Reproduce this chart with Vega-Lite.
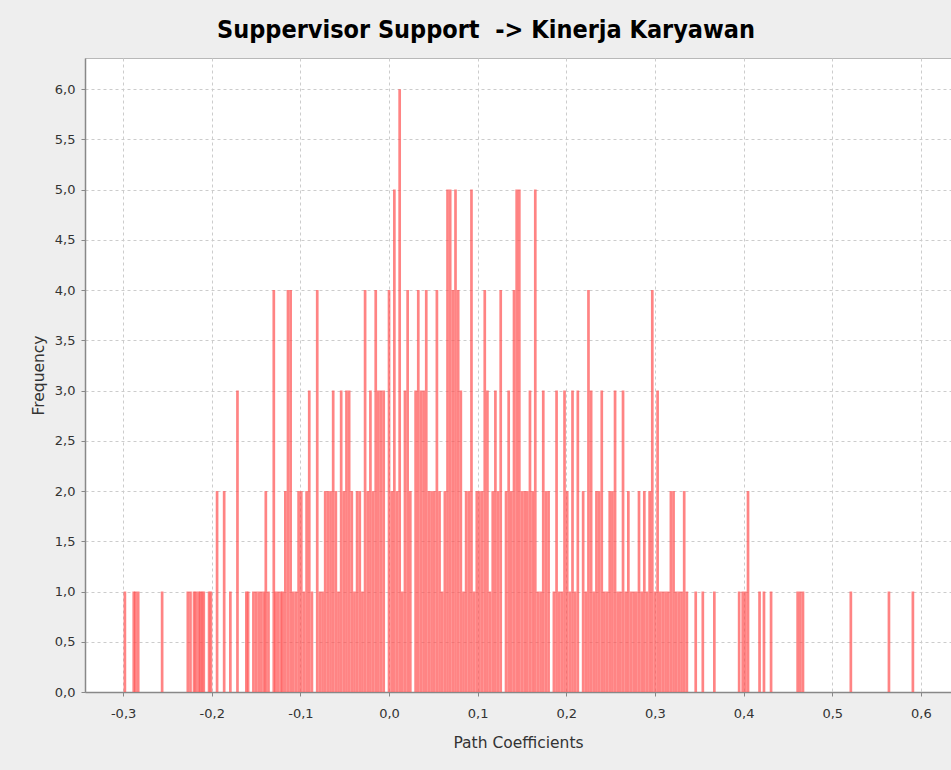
{
  "$schema": "https://vega.github.io/schema/vega-lite/v6.json",
  "width": 866,
  "height": 634,
  "autosize": {"type": "none"},
  "padding": {"left": 85, "top": 58, "right": 0, "bottom": 78},
  "background": "#eeeeee",
  "view": {"fill": "white", "stroke": "#b8b8b8", "strokeWidth": 1},
  "title": {
    "text": "Suppervisor Support \u00a0-> Kinerja Karyawan",
    "font": "DejaVu Sans Condensed",
    "fontSize": 25,
    "fontWeight": "bold",
    "color": "#000000",
    "anchor": "middle",
    "frame": "group",
    "dx": -32,
    "offset": 15
  },
  "data": {
    "values": [
      {"coef": -0.298, "freq": 1}, {"coef": -0.288, "freq": 1}, {"coef": -0.286, "freq": 1}, {"coef": -0.283, "freq": 1},
      {"coef": -0.256, "freq": 1}, {"coef": -0.227, "freq": 1}, {"coef": -0.224, "freq": 1}, {"coef": -0.220, "freq": 1},
      {"coef": -0.218, "freq": 1}, {"coef": -0.215, "freq": 1}, {"coef": -0.213, "freq": 1}, {"coef": -0.211, "freq": 1},
      {"coef": -0.209, "freq": 1}, {"coef": -0.203, "freq": 1}, {"coef": -0.201, "freq": 1}, {"coef": -0.194, "freq": 2},
      {"coef": -0.186, "freq": 2}, {"coef": -0.179, "freq": 1}, {"coef": -0.171, "freq": 3}, {"coef": -0.161, "freq": 1},
      {"coef": -0.159, "freq": 1}, {"coef": -0.153, "freq": 1}, {"coef": -0.150, "freq": 1}, {"coef": -0.147, "freq": 1},
      {"coef": -0.144, "freq": 1}, {"coef": -0.141, "freq": 1}, {"coef": -0.139, "freq": 2}, {"coef": -0.136, "freq": 1},
      {"coef": -0.130, "freq": 4}, {"coef": -0.128, "freq": 1}, {"coef": -0.125, "freq": 1}, {"coef": -0.122, "freq": 1},
      {"coef": -0.120, "freq": 1}, {"coef": -0.117, "freq": 2}, {"coef": -0.114, "freq": 4}, {"coef": -0.111, "freq": 4},
      {"coef": -0.108, "freq": 1}, {"coef": -0.105, "freq": 1}, {"coef": -0.102, "freq": 2}, {"coef": -0.099, "freq": 2},
      {"coef": -0.096, "freq": 1}, {"coef": -0.093, "freq": 2}, {"coef": -0.090, "freq": 3}, {"coef": -0.087, "freq": 1},
      {"coef": -0.081, "freq": 4}, {"coef": -0.078, "freq": 1}, {"coef": -0.075, "freq": 1}, {"coef": -0.072, "freq": 2},
      {"coef": -0.069, "freq": 2}, {"coef": -0.066, "freq": 2}, {"coef": -0.063, "freq": 3}, {"coef": -0.060, "freq": 2},
      {"coef": -0.057, "freq": 1}, {"coef": -0.054, "freq": 3}, {"coef": -0.051, "freq": 2}, {"coef": -0.048, "freq": 3},
      {"coef": -0.045, "freq": 3}, {"coef": -0.042, "freq": 2}, {"coef": -0.039, "freq": 1}, {"coef": -0.036, "freq": 2},
      {"coef": -0.033, "freq": 2}, {"coef": -0.030, "freq": 1}, {"coef": -0.027, "freq": 4}, {"coef": -0.024, "freq": 2},
      {"coef": -0.021, "freq": 3}, {"coef": -0.018, "freq": 2}, {"coef": -0.015, "freq": 4}, {"coef": -0.012, "freq": 3},
      {"coef": -0.009, "freq": 3}, {"coef": -0.006, "freq": 3}, {"coef": 0.000, "freq": 4}, {"coef": 0.003, "freq": 2},
      {"coef": 0.006, "freq": 5}, {"coef": 0.009, "freq": 2}, {"coef": 0.012, "freq": 6}, {"coef": 0.015, "freq": 1},
      {"coef": 0.018, "freq": 3}, {"coef": 0.021, "freq": 4}, {"coef": 0.024, "freq": 2}, {"coef": 0.030, "freq": 3},
      {"coef": 0.033, "freq": 4}, {"coef": 0.036, "freq": 3}, {"coef": 0.039, "freq": 3}, {"coef": 0.042, "freq": 4},
      {"coef": 0.045, "freq": 2}, {"coef": 0.048, "freq": 2}, {"coef": 0.051, "freq": 2}, {"coef": 0.054, "freq": 4},
      {"coef": 0.057, "freq": 2}, {"coef": 0.060, "freq": 1}, {"coef": 0.063, "freq": 2}, {"coef": 0.066, "freq": 5},
      {"coef": 0.069, "freq": 5}, {"coef": 0.072, "freq": 4}, {"coef": 0.075, "freq": 5}, {"coef": 0.078, "freq": 4},
      {"coef": 0.081, "freq": 3}, {"coef": 0.084, "freq": 1}, {"coef": 0.087, "freq": 2}, {"coef": 0.090, "freq": 2},
      {"coef": 0.093, "freq": 5}, {"coef": 0.096, "freq": 1}, {"coef": 0.099, "freq": 2}, {"coef": 0.102, "freq": 2},
      {"coef": 0.105, "freq": 2}, {"coef": 0.108, "freq": 4}, {"coef": 0.111, "freq": 3}, {"coef": 0.114, "freq": 1},
      {"coef": 0.117, "freq": 2}, {"coef": 0.120, "freq": 3}, {"coef": 0.123, "freq": 2}, {"coef": 0.126, "freq": 4},
      {"coef": 0.132, "freq": 2}, {"coef": 0.135, "freq": 3}, {"coef": 0.138, "freq": 2}, {"coef": 0.141, "freq": 4},
      {"coef": 0.144, "freq": 5}, {"coef": 0.147, "freq": 5}, {"coef": 0.150, "freq": 2}, {"coef": 0.153, "freq": 2},
      {"coef": 0.156, "freq": 2}, {"coef": 0.159, "freq": 3}, {"coef": 0.162, "freq": 2}, {"coef": 0.165, "freq": 5},
      {"coef": 0.168, "freq": 1}, {"coef": 0.171, "freq": 1}, {"coef": 0.174, "freq": 3}, {"coef": 0.177, "freq": 2},
      {"coef": 0.180, "freq": 2}, {"coef": 0.186, "freq": 1}, {"coef": 0.189, "freq": 3}, {"coef": 0.192, "freq": 1},
      {"coef": 0.195, "freq": 1}, {"coef": 0.198, "freq": 3}, {"coef": 0.201, "freq": 2}, {"coef": 0.204, "freq": 1},
      {"coef": 0.207, "freq": 3}, {"coef": 0.210, "freq": 1}, {"coef": 0.213, "freq": 3}, {"coef": 0.219, "freq": 2},
      {"coef": 0.222, "freq": 1}, {"coef": 0.225, "freq": 4}, {"coef": 0.228, "freq": 3}, {"coef": 0.231, "freq": 1},
      {"coef": 0.234, "freq": 2}, {"coef": 0.237, "freq": 2}, {"coef": 0.240, "freq": 3}, {"coef": 0.243, "freq": 1},
      {"coef": 0.246, "freq": 1}, {"coef": 0.249, "freq": 2}, {"coef": 0.252, "freq": 2}, {"coef": 0.255, "freq": 3},
      {"coef": 0.258, "freq": 1}, {"coef": 0.261, "freq": 1}, {"coef": 0.264, "freq": 3}, {"coef": 0.267, "freq": 1},
      {"coef": 0.270, "freq": 2}, {"coef": 0.273, "freq": 1}, {"coef": 0.276, "freq": 1}, {"coef": 0.279, "freq": 1},
      {"coef": 0.282, "freq": 2}, {"coef": 0.285, "freq": 1}, {"coef": 0.288, "freq": 2}, {"coef": 0.291, "freq": 1},
      {"coef": 0.294, "freq": 2}, {"coef": 0.297, "freq": 4}, {"coef": 0.300, "freq": 1}, {"coef": 0.303, "freq": 3},
      {"coef": 0.306, "freq": 1}, {"coef": 0.309, "freq": 1}, {"coef": 0.312, "freq": 1}, {"coef": 0.315, "freq": 1},
      {"coef": 0.318, "freq": 2}, {"coef": 0.321, "freq": 2}, {"coef": 0.324, "freq": 1}, {"coef": 0.327, "freq": 1},
      {"coef": 0.330, "freq": 1}, {"coef": 0.333, "freq": 2}, {"coef": 0.336, "freq": 1}, {"coef": 0.346, "freq": 1},
      {"coef": 0.354, "freq": 1}, {"coef": 0.367, "freq": 1}, {"coef": 0.395, "freq": 1}, {"coef": 0.399, "freq": 1},
      {"coef": 0.402, "freq": 1}, {"coef": 0.405, "freq": 2}, {"coef": 0.418, "freq": 1}, {"coef": 0.423, "freq": 1},
      {"coef": 0.431, "freq": 1}, {"coef": 0.461, "freq": 1}, {"coef": 0.464, "freq": 1}, {"coef": 0.467, "freq": 1},
      {"coef": 0.521, "freq": 1}, {"coef": 0.564, "freq": 1}, {"coef": 0.591, "freq": 1}
    ]
  },
  "mark": {"type": "bar", "width": 2.7, "color": "#ff5050", "opacity": 0.7, "clip": true},
  "encoding": {
    "x": {
      "field": "coef",
      "type": "quantitative",
      "scale": {"domain": [-0.343, 0.634], "nice": false, "zero": false, "padding": 0},
      "axis": {
        "title": "Path Coefficients",
        "values": [-0.3, -0.2, -0.1, 0, 0.1, 0.2, 0.3, 0.4, 0.5, 0.6],
        "labelExpr": "replace(replace(format(datum.value, '.1f'), '.', ','), '\u2212', '-')",
        "labelFont": "DejaVu Sans",
        "labelFontSize": 13,
        "labelColor": "#333333",
        "labelPadding": 11,
        "titleFont": "DejaVu Sans",
        "titleFontSize": 15.5,
        "titleFontWeight": "normal",
        "titleColor": "#333333",
        "titlePadding": 15,
        "domainColor": "#888888",
        "domainWidth": 1.5,
        "tickColor": "#888888",
        "tickSize": 4,
        "grid": true,
        "gridColor": "#cccccc",
        "gridDash": [3, 3],
        "gridWidth": 1
      }
    },
    "y": {
      "field": "freq",
      "type": "quantitative",
      "scale": {"domain": [0, 6.31], "nice": false, "padding": 0},
      "axis": {
        "title": "Frequency",
        "values": [0, 0.5, 1, 1.5, 2, 2.5, 3, 3.5, 4, 4.5, 5, 5.5, 6],
        "labelExpr": "replace(format(datum.value, '.1f'), '.', ',')",
        "labelFont": "DejaVu Sans",
        "labelFontSize": 13,
        "labelColor": "#333333",
        "labelPadding": 6,
        "titleFont": "DejaVu Sans",
        "titleFontSize": 15.5,
        "titleFontWeight": "normal",
        "titleColor": "#333333",
        "titlePadding": 8,
        "domainColor": "#888888",
        "domainWidth": 1.5,
        "tickColor": "#888888",
        "tickSize": 4,
        "grid": true,
        "gridColor": "#cccccc",
        "gridDash": [3, 3],
        "gridWidth": 1
      }
    }
  }
}
